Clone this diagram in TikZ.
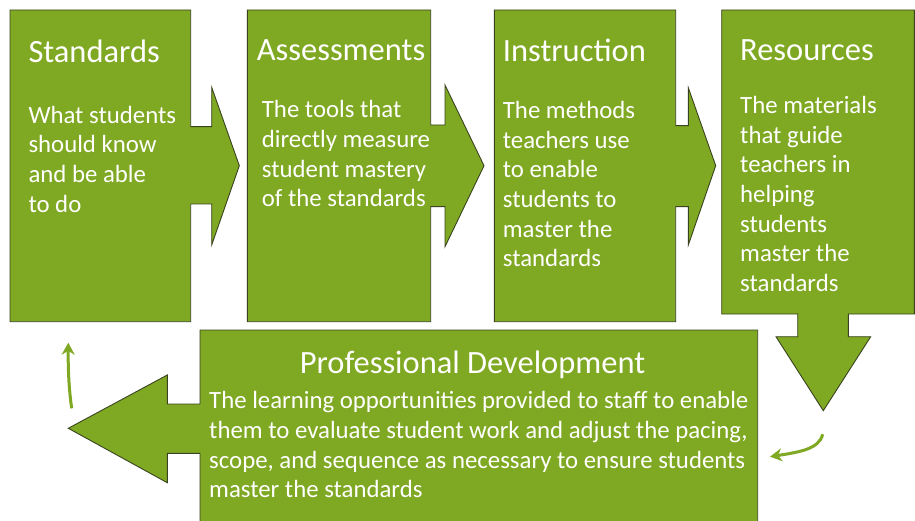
\documentclass[tikz,border=0pt]{standalone}
\usepackage{fontspec}
\setmainfont{Carlito}
\usetikzlibrary{arrows.meta}
\definecolor{leaf}{HTML}{7FA823}
\definecolor{edge}{HTML}{3A4320}
\begin{document}
\begin{tikzpicture}[x=1pt,y=-1pt,
  panel/.style={fill=leaf,draw=edge,line width=0.9pt,line join=miter},
  head/.style={text=white,inner sep=0pt,anchor=base west,font=\fontsize{32.5}{39}\selectfont},
  % multi-line text: the base anchor sits on the last line
  body/.style={text=white,inner sep=0pt,anchor=base west,align=left,font=\fontsize{24.8}{29.7}\selectfont},
  loop/.style={draw=leaf,line width=3pt,-{Stealth[length=12pt,width=13pt]}}]
\useasboundingbox (0,0) rectangle (915,521);
\clip (0,0) rectangle (915,521);

% Standards panel with its right-pointing arrow
\draw[panel] (10,10) -- (190.7,10) -- (190.7,126.7) -- (211.7,126.7) -- (211.7,87.3)
  -- (239.3,165.7) -- (211.7,245) -- (211.7,204) -- (190.7,204) -- (190.7,321.7)
  -- (10,321.7) -- cycle;
% Assessments panel
\draw[panel] (247.3,10) -- (430.7,10) -- (430.7,125) -- (445,125) -- (445,85)
  -- (484,165.7) -- (445,246.7) -- (445,206.7) -- (430.7,206.7) -- (430.7,321.7)
  -- (247.3,321.7) -- cycle;
% Instruction panel
\draw[panel] (494.3,10) -- (675.7,10) -- (675.7,125.7) -- (688.3,125.7) -- (688.3,87.7)
  -- (715.7,165.7) -- (688.3,245) -- (688.3,206.7) -- (675.7,206.7) -- (675.7,321.7)
  -- (494.3,321.7) -- cycle;
% Resources panel with its downward arrow
\draw[panel] (721.7,10) -- (914.4,10) -- (914.4,314) -- (848.3,314) -- (848.3,336.7)
  -- (870.7,336.7) -- (823.3,410.7) -- (776,336.7) -- (797.7,336.7) -- (797.7,314)
  -- (721.7,314) -- cycle;
% Professional Development panel with its left-pointing arrow
\draw[panel] (200,330) -- (757.7,330) -- (757.7,530) -- (200,530) -- (200,453.3)
  -- (167.3,453.3) -- (167.3,482.7) -- (68.3,428.3) -- (167.3,375) -- (167.3,404)
  -- (200,404) -- cycle;

% Titles
\node[head] (t1) at (28.3,62.7) {Standards};
\node[head] (t2) at (256.7,60.7) {Assessments};
\node[head] (t3) at (502.7,61.7) {Instruction};
\node[head] (t4) at (740,61) {Resources};
\node[head,anchor=base] (t5) at (472.5,373) {Professional Development};

% Descriptions (positioned by the baseline of their last line)
\node[body] (b1) at (28.3,212.4) {What students\\should know\\and be able\\to do};
\node[body] (b2) at (261.7,207) {The tools that\\directly measure\\student mastery\\of the standards};
\node[body] (b3) at (502.7,267) {The methods\\teachers use\\to enable\\students to\\master the\\standards};
\node[body] (b4) at (740,291.5) {The materials\\that guide\\teachers in\\helping\\students\\master the\\standards};
\node[body] (b5) at (209,497.8) {The learning opportunities provided to staff to enable\\them to evaluate student work and adjust the pacing,\\scope, and sequence as necessary to ensure students\\master the standards};

% Cycle arrows
\coordinate (r0) at (822.7,434.3);
\coordinate (r1) at (770,456.7);
\coordinate (l0) at (71.7,408.3);
\coordinate (l1) at (68.3,342.7);
\draw[loop] (r0) .. controls (819,449) and (800,452) .. (r1);
\draw[loop] (l0) .. controls (69,390) and (68,370) .. (l1);
\end{tikzpicture}
\end{document}
